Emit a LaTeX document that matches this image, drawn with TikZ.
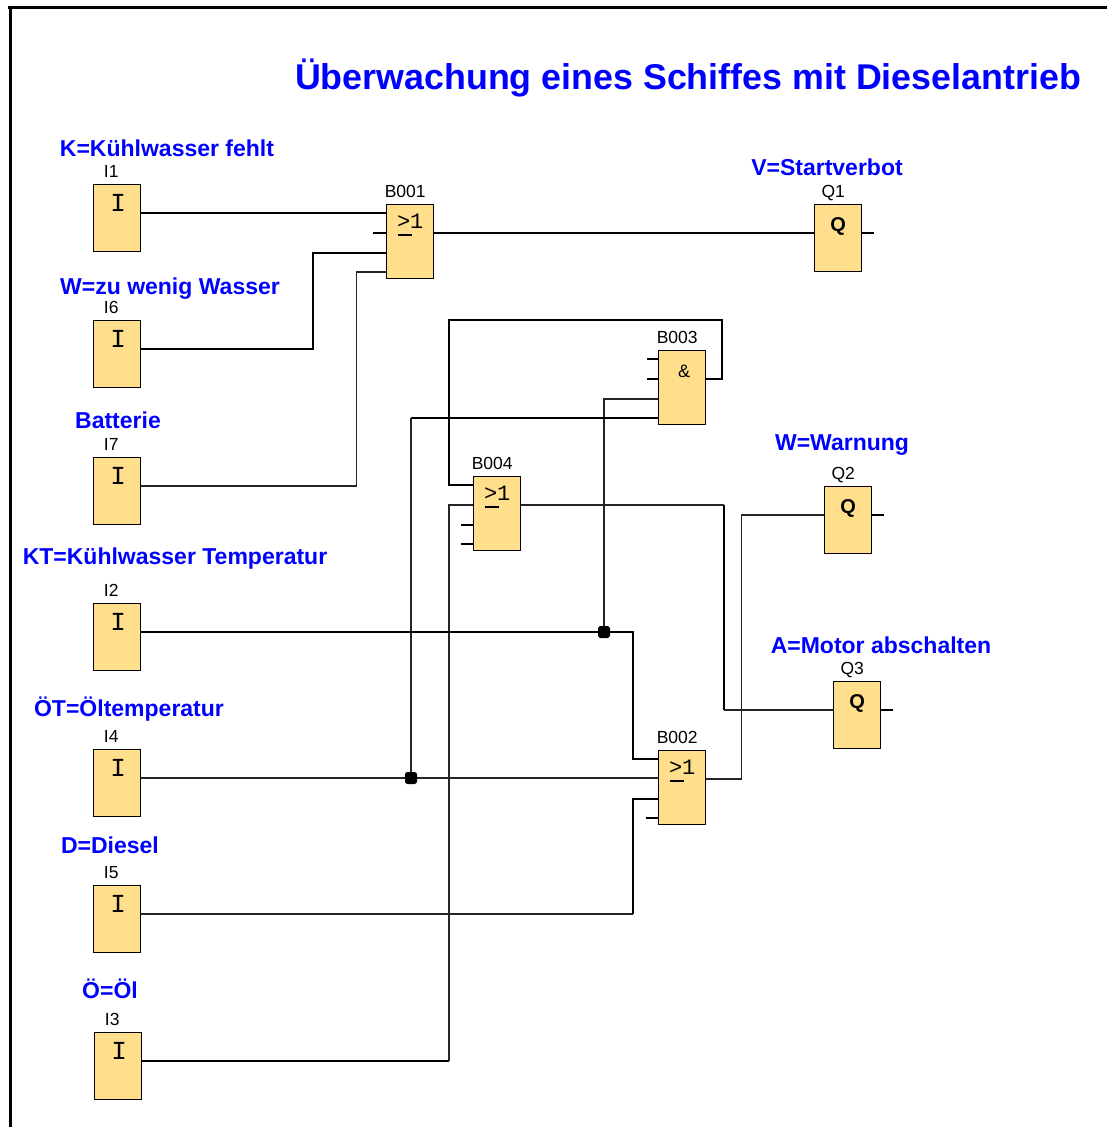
\documentclass[tikz,border=0pt]{standalone}
\usepackage{fontspec}
\setmainfont{Liberation Sans}
\newfontfamily\monof{Liberation Mono}
\usetikzlibrary{calc}
\definecolor{plcfill}{RGB}{255,222,140}
\definecolor{lblue}{RGB}{0,0,255}
\begin{document}
\begin{tikzpicture}[x=1pt,y=-1pt,
  blk/.style={draw, fill=plcfill, line width=1.4pt, inner sep=0, anchor=north west, minimum width=47pt},
  inblk/.style={blk, minimum height=67pt},
  gate/.style={blk, minimum height=74pt},
  ttl/.style={text=lblue, font=\bfseries\fontsize{23}{23}\selectfont, inner sep=0, anchor=base},
  nm/.style={font=\fontsize{17.5}{17.5}\selectfont, inner sep=0, anchor=base},
  isym/.style={font=\monof\fontsize{26}{26}\selectfont, inner sep=0, anchor=base},
  qsym/.style={font=\bfseries\fontsize{20}{20}\selectfont, inner sep=0, anchor=base},
  gsym/.style={font=\monof\fontsize{22}{22}\selectfont, inner sep=0, anchor=base},
  asym/.style={font=\fontsize{18}{18}\selectfont, inner sep=0, anchor=base},
  thk/.style={line width=2pt},
  thn/.style={line width=1.2pt, black!85},
  stub/.style={line width=1.3pt},
  dotj/.style={rounded corners=2.5pt, fill=black, inner sep=0, minimum size=12pt},
]
\useasboundingbox (0,0) rectangle (1107,1127);
% frame
\draw[line width=3pt] (8,7) -- (1107,7);
\draw[line width=3pt] (10,7) -- (10,1127);
% title
\node[ttl, font=\bfseries\fontsize{35.8}{36}\selectfont] (title) at (688,89) {Überwachung eines Schiffes mit Dieselantrieb};

% ---------- input blocks ----------
\node[inblk] (i1) at (93,184) {};
\node[inblk] (i6) at (93,320) {};
\node[inblk] (i7) at (93,457) {};
\node[inblk] (i2) at (93,603) {};
\node[inblk] (i4) at (93,749) {};
\node[inblk] (i5) at (93,885) {};
\node[inblk] (i3) at (94,1032) {};
\foreach \n/\t in {i1/I1,i6/I6,i7/I7,i2/I2,i4/I4,i5/I5,i3/I3}{
  \node[nm] (\n n) at ($(\n.north)+(-6,-7)$) {\t};
  \node[isym] (\n s) at ($(\n.north)+(1,27)$) {I};
  \coordinate (\n o) at ($(\n.north east)+(0,29)$);
}
% blue input labels
\node[ttl] (l1) at (167,156) {K=Kühlwasser fehlt};
\node[ttl] (l6) at (170,294) {W=zu wenig Wasser};
\node[ttl] (l7) at (118,428) {Batterie};
\node[ttl] (l2) at (175,564) {KT=Kühlwasser Temperatur};
\node[ttl] (l4) at (129,716) {ÖT=Öltemperatur};
\node[ttl] (l5) at (110,853) {D=Diesel};
\node[ttl] (l3) at (110,998) {Ö=Öl};

% ---------- gates ----------
\node[gate] (b1) at (386,204) {};
\node[gate] (b3) at (658,350) {};
\node[gate] (b4) at (473,476) {};
\node[gate] (b2) at (658,750) {};
\foreach \n/\t in {b1/B001,b3/B003,b4/B004,b2/B002}{
  \node[nm] (\n n) at ($(\n.north)+(-5,-7)$) {\t};
  \coordinate (\n p1) at ($(\n.north west)+(0,9)$);
  \coordinate (\n p2) at ($(\n.north west)+(0,29)$);
  \coordinate (\n p3) at ($(\n.north west)+(0,49)$);
  \coordinate (\n p4) at ($(\n.north west)+(0,68)$);
  \coordinate (\n o) at ($(\n.north east)+(0,29)$);
}
\foreach \n in {b1,b4,b2}{
  \node[gsym] (\n s) at ($(\n.north)+(0,24)$) {>1};
  \draw[line width=1.6pt] ($(\n.north)+(-12.5,31)$) -- ++(14,0);
}
\node[asym] (b3s) at ($(b3.north)+(2,27)$) {\&};

% ---------- outputs ----------
\node[inblk] (q1) at (814,204) {};
\node[inblk] (q2) at (824,486) {};
\node[inblk] (q3) at (833,681) {};
\foreach \n/\t in {q1/Q1,q2/Q2,q3/Q3}{
  \node[nm] (\n n) at ($(\n.north)+(-5,-7)$) {\t};
  \node[qsym] (\n s) at ($(\n.north)+(0,27)$) {Q};
  \coordinate (\n i) at ($(\n.north west)+(0,29)$);
  \coordinate (\n o) at ($(\n.north east)+(0,29)$);
  \draw[stub] (\n o) -- ++(12,0);
}
\node[ttl] (lq1) at (827,175) {V=Startverbot};
\node[ttl] (lq2) at (842,450) {W=Warnung};
\node[ttl] (lq3) at (881,653) {A=Motor abschalten};

% ---------- unconnected input stubs ----------
\draw[stub] (b1p2) -- ++(-13,0);
\draw[stub] (b3p1) -- ++(-11,0);
\draw[stub] (b3p2) -- ++(-11,0);
\draw[stub] (b4p3) -- ++(-12,0);
\draw[stub] (b4p4) -- ++(-12,0);
\draw[stub] (b2p4) -- ++(-12,0);

% ---------- bend points ----------
\coordinate (j1) at (604,0 |- i2o);
\coordinate (j2) at (411,0 |- i4o);
\coordinate (fbk) at (449,320);
\coordinate (k4) at (724,0 |- b4o);
\coordinate (k5) at (633,0 |- i5o);

% ---------- connectors ----------
\draw[thk] (i1o) -- (i1o -| b1p1);
\draw[thk] (i6o) -- ++(172,0) |- (b1p3);
\draw[thn] (i7o) -- ++(215,0) |- (b1p4);
\draw[thk] (b1o) -- (b1o -| q1i);
% B003 feedback to B004
\draw[thk] (b3o) -- ++(16,0) |- (fbk) |- (b4p1);
% B003 inputs
\draw[thn] (b3p3) -| (j1);
\draw[thk] (b3p4) -- (j2 |- b3p4);
\draw[thn] (j2 |- b3p4) -- (j2);
% I3 to B004
\draw[thk] (i3o) -- (i3o -| fbk);
\draw[thn] (i3o -| fbk) |- (b4p2);
% B004 to Q3
\draw[thn] (b4o) -- (k4);
\draw[thk] (k4) -- (k4 |- q3i);
\draw[thn] (k4 |- q3i) -- (q3i);
% I2 to B002 and B003
\draw[thk] (i2o) -- (j1) -- ++(29,0) |- (b2p1);
% I4 to B002
\draw[thn] (i4o) -- (j2) -- (j2 -| b2p2);
% I5 to B002
\draw[thn] (i5o) -- (k5);
\draw[thk] (k5) |- (b2p3);
% B002 to Q2
\draw[thn] (b2o) -- ++(35,0) |- (q2i);

\node[dotj] (dj1) at (j1) {};
\node[dotj] (dj2) at (j2) {};
\end{tikzpicture}
\end{document}
